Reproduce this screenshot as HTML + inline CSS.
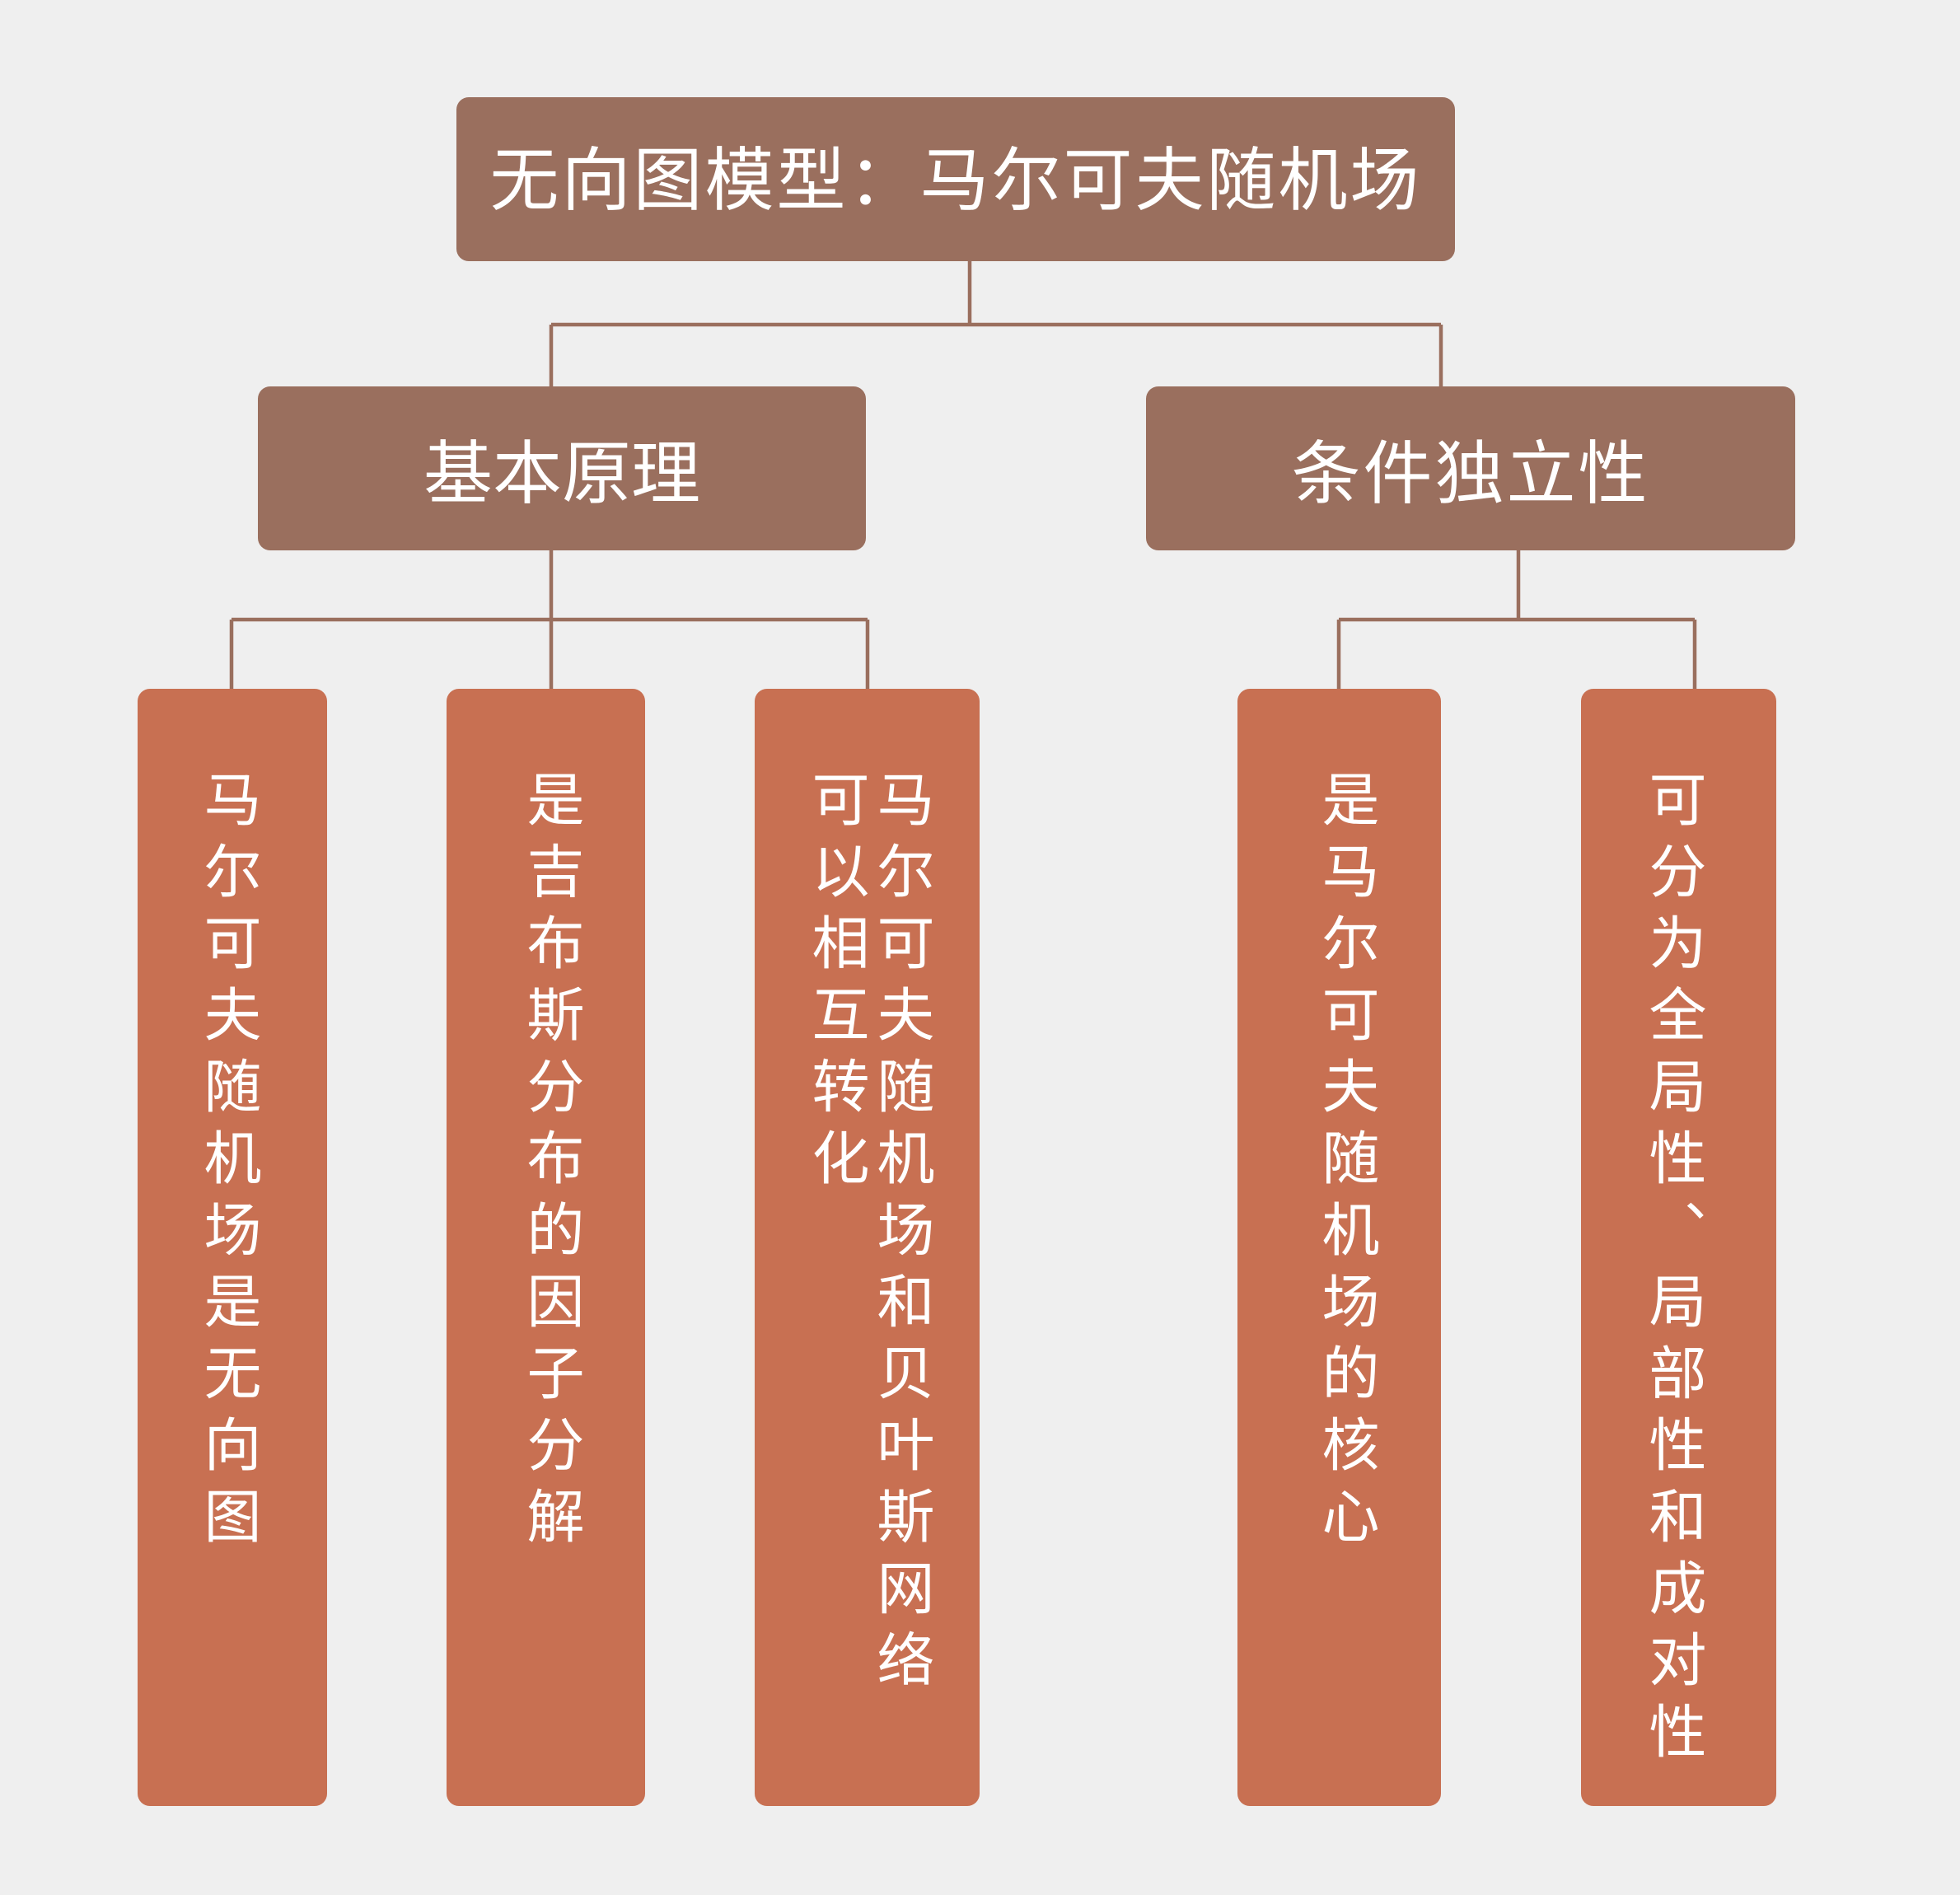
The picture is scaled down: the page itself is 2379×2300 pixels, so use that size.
<!DOCTYPE html>
<html><head><meta charset="utf-8"><style>
body{margin:0;width:2379px;height:2300px;background:#efefef;position:relative;overflow:hidden;font-family:"Liberation Sans","Noto Sans CJK SC",sans-serif;}
.b{position:absolute;border-radius:15px;color:#fff;display:flex;align-items:center;justify-content:center;box-sizing:border-box;}
.h{background:#9a6f5e;font-size:84px;}
.l{background:#c87052;}
.v{position:absolute;writing-mode:vertical-rl;color:#fff;font-size:70px;letter-spacing:17px;line-height:79px;white-space:nowrap;}
</style></head><body>
<svg width="2379" height="2300" style="position:absolute;left:0;top:0">
<g stroke="#9a6f5e" stroke-width="4.5" fill="none">
<path d="M1177 317V394M669 394H1749M669 394V469M1749 394V469"/>
<path d="M669 668V752M281 752H1053M281 752V836M669 752V836M1053 752V836"/>
<path d="M1843 668V752M1625 752H2057M1625 752V836M2057 752V836"/>
</g></svg>
<div class="b h" style="left:554px;top:118px;width:1212px;height:199px;font-size:84px;letter-spacing:3px;padding-bottom:10px;">无向图模型：马尔可夫随机场</div>
<div class="b h" style="left:313px;top:469px;width:738px;height:199px;">基本原理</div>
<div class="b h" style="left:1391px;top:469px;width:788px;height:199px;letter-spacing:3px;">条件独立性</div>
<div class="b l" style="left:167px;top:836px;width:230px;height:1356px;"></div>
<div class="b l" style="left:542px;top:836px;width:241px;height:1356px;"></div>
<div class="b l" style="left:916px;top:836px;width:273px;height:1356px;"></div>
<div class="b l" style="left:1502px;top:836px;width:247px;height:1356px;"></div>
<div class="b l" style="left:1919px;top:836px;width:237px;height:1356px;"></div>
<div class="v" style="left:237px;top:934px;">马尔可夫随机场是无向图</div>
<div class="v" style="left:629px;top:934px;">是吉布斯分布的因子分解</div>
<div class="v" style="left:975px;top:934px;">马尔可夫随机场和贝叶斯网络<br>可以相互转化</div>
<div class="v" style="left:1594px;top:934px;">是马尔可夫随机场的核心</div>
<div class="v" style="left:1991px;top:934px;">可分为全局性、局部性和成对性</div>
</body></html>
